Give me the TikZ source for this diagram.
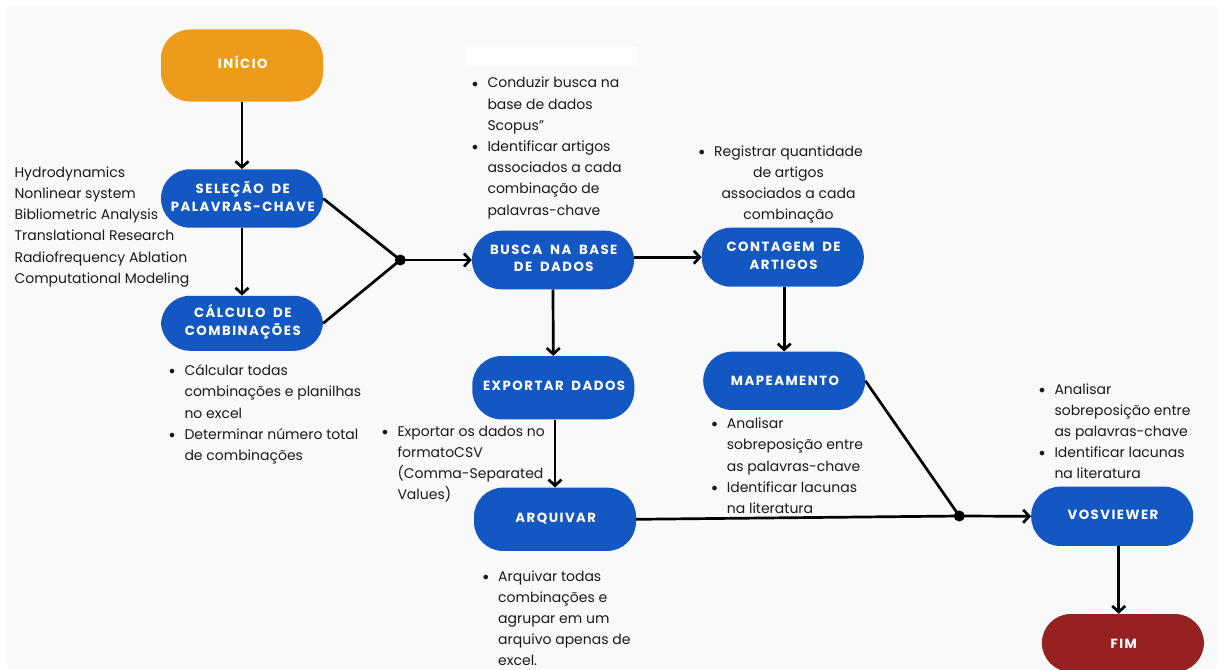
\documentclass[tikz,border=0pt]{standalone}
\usepackage{fontspec}
\setmainfont{Poppins}
\newfontfamily\lblfont[LetterSpace=11,WordSpace=1.8]{Poppins}
\newfontfamily\dejavu{DejaVu Sans}
\usetikzlibrary{arrows.meta}
\definecolor{bgc}{HTML}{F9F9F9}
\definecolor{orng}{HTML}{EE9A1B}
\definecolor{blu}{HTML}{1357C3}
\definecolor{rd}{HTML}{952220}
\definecolor{txt}{HTML}{1A1A1A}
\newcommand{\bulx}{\llap{\makebox[0pt][c]{\raisebox{-2.2pt}{\fontsize{16}{16}\dejavu •}}\hspace{12.4pt}}}
\newcommand{\txtl}[1]{\begin{tabular}[t]{@{}l@{}}#1\end{tabular}}
\newcommand{\txtc}[1]{\begin{tabular}[t]{@{}c@{}}#1\end{tabular}}
\tikzset{
  box/.style={draw=none, rounded corners=29pt, minimum width=162pt, minimum height=59pt, inner sep=0pt},
  lbl/.style={anchor=base, text=white, inner sep=0pt, xshift=0.8pt, font=\lblfont\bfseries\fontsize{13.3}{17.7}\selectfont},
  txtblk/.style={anchor=base west, inner sep=0pt, text=txt, font=\fontsize{14}{21.2}\selectfont},
  arr/.style={line width=2.7pt, -{Straight Barb[length=6pt,width=13pt]}},
  ln/.style={line width=2.7pt},
  jdot/.style={circle, fill=black, minimum size=11pt, inner sep=0pt},
}
\begin{document}
\begin{tikzpicture}[x=1pt,y=-1pt]
\useasboundingbox (0,0) rectangle (1220,669);
\clip (0,0) rectangle (1220,669);
\fill[white] (0,0) rectangle (1220,669);
\fill[bgc] (7,6) rectangle (1217,669);
\fill[white] (465,46.7) rectangle (637.3,65.7);

% boxes
\node[box, fill=orng, minimum height=72pt] (ini) at (242,65.5) {};
\node[box, fill=blu, minimum height=58.4pt] (sel) at (242,198.5) {};
\node[box, fill=blu, minimum height=55pt] (calc) at (242,323.3) {};
\node[box, fill=blu, minimum height=58.6pt] (busca) at (553,260) {};
\node[box, fill=blu, minimum height=59pt] (cont) at (782.8,257.2) {};
\node[box, fill=blu, minimum height=63.3pt] (exp) at (553.3,387.7) {};
\node[box, fill=blu, minimum height=58.3pt] (map) at (784.2,380.8) {};
\node[box, fill=blu, minimum height=63.3pt] (arq) at (555,519.3) {};
\node[box, fill=blu, minimum height=59.3pt] (vos) at (1112.2,516.3) {};
\node[box, fill=rd, minimum height=58pt] (fim) at (1122.9,643) {};

% labels
\node[lbl] (iniL) at ([yshift=-2.8pt]ini.center) {INÍCIO};
\node[lbl] (selL) at ([yshift=5.2pt]sel.center) {\txtc{SELEÇÃO DE\\PALAVRAS-CHAVE}};
\node[lbl] (calcL) at ([yshift=5.6pt]calc.center) {\txtc{CÁLCULO DE\\COMBINAÇÕES}};
\node[lbl] (buscaL) at ([yshift=6pt]busca.center) {\txtc{BUSCA NA BASE\\DE DADOS}};
\node[lbl] (contL) at ([yshift=5.5pt]cont.center) {\txtc{CONTAGEM DE\\ARTIGOS}};
\node[lbl] (expL) at ([yshift=-3.2pt]exp.center) {EXPORTAR DADOS};
\node[lbl] (mapL) at ([yshift=-4.2pt]map.center) {MAPEAMENTO};
\node[lbl] (arqL) at ([yshift=-3.4pt]arq.center) {ARQUIVAR};
\node[lbl] (vosL) at ([yshift=-3pt]vos.center) {VOSVIEWER};
\node[lbl] (fimL) at ([yshift=-5.3pt]fim.center) {FIM};

% junctions
\node[jdot] (j1) at (400.3,260) {};
\node[jdot] (j2) at (959.3,516) {};

% connectors
\draw[arr] (ini.south) -- (sel.north);
\draw[arr] (sel.south) -- (calc.north);
\draw[ln] (sel.east) -- (j1.center);
\draw[ln] (calc.east) -- (j1.center);
\draw[arr] (j1.center) -- (busca.west);
\draw[arr] (busca.east |- cont.west) -- (cont.west);
\draw[arr] (busca.south) -- (exp.north);
\draw[arr] (map.north |- cont.south) -- (map.north);
\draw[arr] (arq.north |- exp.south) -- (arq.north);
\draw[ln] (arq.east) -- (j2.center);
\draw[ln] (map.east) -- (j2.center);
\draw[arr] (j2.center) -- (vos.west);
\draw[arr] ([xshift=6.5pt]vos.south) -- ([xshift=-4.2pt]fim.north);

% texts
\node[txtblk] (kw) at (14.3,177.3) {\txtl{Hydrodynamics\\Nonlinear system\\Bibliometric Analysis\\Translational Research\\Radiofrequency Ablation\\Computational Modeling}};
\node[txtblk] (calcT) at (184.3,375.7) {\txtl{\bulx Cálcular todas\\combinações e planilhas\\no excel\\\bulx Determinar número total\\de combinações}};
\node[txtblk] (buscaT) at (487.3,87.8) {\txtl{\bulx Conduzir busca na\\base de dados\\Scopus"\\\bulx Identificar artigos\\associados a cada\\combinação de\\palavras-chave}};
\node[txtblk] (contT) at (714,156) {\txtc{\bulx Registrar quantidade\\de artigos\\associados a cada\\combinação}};
\node[txtblk] (expT) at (397.3,436) {\txtl{\bulx Exportar os dados no\\formatoCSV\\(Comma-Separated\\Values)}};
\node[txtblk] (mapT) at (726.7,428.7) {\txtl{\bulx Analisar\\sobreposição entre\\as palavras-chave\\\bulx Identificar lacunas\\na literatura}};
\node[txtblk] (vosT) at (1054.3,394) {\txtl{\bulx Analisar\\sobreposição entre\\as palavras-chave\\\bulx Identificar lacunas\\na literatura}};
\node[txtblk] (arqT) at (498,581) {\txtl{\bulx Arquivar todas\\combinações e\\agrupar em um\\arquivo apenas de\\excel.}};
\end{tikzpicture}
\end{document}
